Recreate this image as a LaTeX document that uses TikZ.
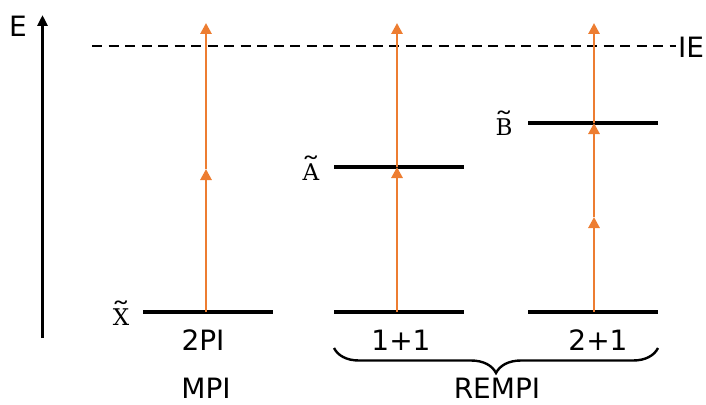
\documentclass[tikz,border=0pt]{standalone}
\usepackage{graphicx}
\usepackage{fontspec}
\setmainfont{DejaVu Sans}
\newfontfamily\serifx{DejaVu Serif}
\usetikzlibrary{arrows.meta,decorations.pathreplacing}
\definecolor{exc}{HTML}{ED7D31}
\newcommand{\tlev}[1]{\ooalign{#1\cr\hidewidth\raisebox{0.17em}{\scalebox{1.7}[1.15]{\char"02DC}}\hidewidth\cr}}
\begin{document}
\begin{tikzpicture}[x=1pt,y=-1pt,
  level/.style={line width=3.8pt},
  exarrow/.style={exc,line width=2.8pt,-{Triangle[width=11pt,length=11pt]}},
  lbl/.style={font={\fontsize{28}{32}\selectfont},inner sep=0pt},
  tlbl/.style={font={\fontsize{23pt}{27pt}\selectfont\serifx},inner sep=0pt},
  axisarrow/.style={line width=2.8pt,-{Triangle[width=10pt,length=11pt]}}]
\useasboundingbox (0,0) rectangle (706,404);
% axis
\coordinate (ax0) at (42.5,338);
\coordinate (ax1) at (42.5,15);
\draw[axisarrow] (ax0) -- (ax1);
\node[lbl] (E) at (18,26) {E};
% IE
\coordinate (ie0) at (92,46);
\coordinate (ie1) at (676,46);
\draw[line width=2.6pt,dash pattern=on 10pt off 6.5pt] (ie0) -- (ie1);
\node[lbl,anchor=west] (IE) at (678,47) {IE};
% levels
\coordinate (x0) at (143,312); \coordinate (x1) at (273,312);
\coordinate (g20) at (334,312); \coordinate (g21) at (464,312);
\coordinate (g30) at (528,312); \coordinate (g31) at (658,312);
\coordinate (a0) at (334,167); \coordinate (a1) at (464,167);
\coordinate (b0) at (528,123); \coordinate (b1) at (658,123);
\draw[level] (x0) -- (x1);
\draw[level] (g20) -- (g21);
\draw[level] (g30) -- (g31);
\draw[level] (a0) -- (a1);
\draw[level] (b0) -- (b1);
\node[tlbl,anchor=base] (X) at (121,325) {\tlev{X}};
\node[tlbl,anchor=base] (A) at (311,180) {\tlev{A}};
\node[tlbl,anchor=base] (B) at (504,135) {\tlev{B}};
% excitation arrows
\coordinate (p1s) at (206,312); \coordinate (p1m) at (206,169); \coordinate (p1t) at (206,23);
\draw[exarrow] (p1s) -- (p1m);
\draw[exarrow] (p1m) -- (p1t);
\coordinate (p2s) at (397,312); \coordinate (p2m) at (397,167); \coordinate (p2t) at (397,23);
\draw[exarrow] (p2s) -- (p2m);
\draw[exarrow] (p2m) -- (p2t);
\coordinate (p3s) at (594,312); \coordinate (p3m) at (594,217); \coordinate (p3b) at (594,123); \coordinate (p3t) at (594,23);
\draw[exarrow] (p3s) -- (p3m);
\draw[exarrow] (p3m) -- (p3b);
\draw[exarrow] (p3b) -- (p3t);
% labels
\node[lbl] (pi2) at (203,340) {2PI};
\node[lbl] (r11) at (401,340) {1+1};
\node[lbl] (r21) at (598,340) {2+1};
\node[lbl] (mpi) at (206,388) {MPI};
\node[lbl] (rempi) at (497,388) {REMPI};
% brace
\coordinate (br0) at (658,348);
\coordinate (br1) at (334,348);
\draw[line width=2.4pt,decorate,decoration={brace,amplitude=25pt}] (br0) -- (br1);
\end{tikzpicture}
\end{document}
